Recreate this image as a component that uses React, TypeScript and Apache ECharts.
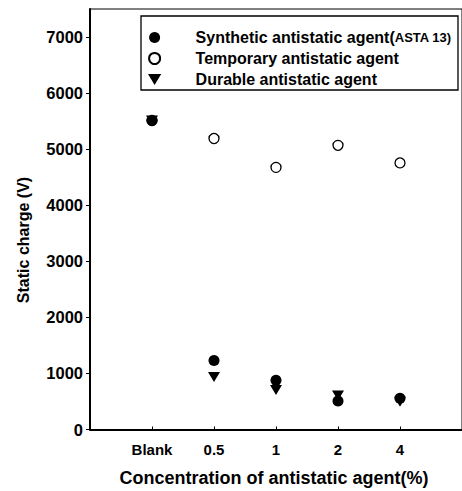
import React, { useEffect, useRef } from "react";
import * as echarts from "echarts";

const categories = ["Blank", "0.5", "1", "2", "4"];
const xIndex = [1, 2, 3, 4, 5];
const syntheticValues = [5510, 1230, 880, 510, 556];
const temporaryValues = [5510, 5190, 4675, 5068, 4755];
const durableValues = [5510, 935, 705, 605, 496];
const yTickValues = [0, 1000, 2000, 3000, 4000, 5000, 6000, 7000];

const seriesNames = [
  "Synthetic antistatic agent(ASTA 13)",
  "Temporary antistatic agent",
  "Durable antistatic agent",
];

const FONT = 'Arial, "Liberation Sans", Helvetica, sans-serif';

export default function App() {
  const ref = useRef<HTMLDivElement>(null);
  useEffect(() => {
    document.body.style.margin = "0";
    if (!ref.current) return;
    const chart = echarts.init(ref.current, undefined, { renderer: "svg" });
    const pts = (vals: number[]) => xIndex.map((x, i) => [x, vals[i]]);
    chart.setOption({
      animation: false,
      backgroundColor: "#fff",
      textStyle: { fontFamily: FONT },
      grid: {
        left: 90,
        top: 9,
        width: 379,
        height: 420.5,
        show: true,
        borderColor: "#000",
        borderWidth: 1,
        backgroundColor: "transparent",
      },
      xAxis: {
        type: "value",
        min: 0,
        max: 6,
        interval: 1,
        splitLine: { show: false },
        axisLine: { show: true, onZero: false, lineStyle: { color: "#000", width: 2 } },
        axisTick: { show: true, inside: true, length: 3, customValues: xIndex, lineStyle: { color: "#000" } },
        axisLabel: {
          customValues: xIndex,
          margin: 12,
          color: "#000",
          fontSize: 15,
          fontWeight: "bold",
          fontFamily: FONT,
          formatter: (v: number) => categories[v - 1] ?? "",
        },
      },
      yAxis: {
        type: "value",
        min: 0,
        max: 7500,
        interval: 1000,
        splitLine: { show: false },
        axisLine: { show: true, onZero: false, lineStyle: { color: "#000", width: 2 } },
        axisTick: { show: true, inside: false, length: 4, customValues: yTickValues, lineStyle: { color: "#000" } },
        axisLabel: {
          customValues: yTickValues,
          margin: 7,
          color: "#000",
          fontSize: 16.5,
          fontWeight: "bold",
          fontFamily: FONT,
          formatter: (v: number) => (v <= 7000 ? String(v) : ""),
        },
      },
      legend: {
        orient: "vertical",
        left: 148,
        top: 29.5,
        padding: 0,
        itemGap: 5,
        itemWidth: 40,
        itemHeight: 11,
        symbolKeepAspect: true,
        data: [
          { name: seriesNames[0], icon: "circle" },
          { name: seriesNames[1], icon: "circle" },
          { name: seriesNames[2], icon: "path://M0,0L12,0L6,10Z" },
        ],
        formatter: (name: string) =>
          name === seriesNames[0]
            ? "{s|}{a|Synthetic antistatic agent(}{b|ASTA 13)}"
            : "{s|}{a|" + name + "}",
        textStyle: {
          color: "#000",
          fontFamily: FONT,
          rich: {
            s: { width: 16, lineHeight: 15 },
            a: { fontSize: 16, fontWeight: "bold", color: "#000", lineHeight: 15, fontFamily: FONT },
            b: { fontSize: 13, fontWeight: "bold", color: "#000", lineHeight: 15, fontFamily: FONT },
          },
        },
        z: 10,
      },
      graphic: [
        {
          type: "rect",
          shape: { x: 141, y: 16, width: 317, height: 74 },
          style: { fill: "#fff", stroke: "#000", lineWidth: 1.3 },
          z: 5,
        },
        {
          type: "text",
          x: 274,
          y: 478,
          style: {
            text: "Concentration of antistatic agent(%)",
            align: "center",
            verticalAlign: "middle",
            fontSize: 18,
            fontWeight: "bold",
            fontFamily: FONT,
            fill: "#000",
          },
        },
        {
          type: "text",
          x: 23,
          y: 240,
          rotation: Math.PI / 2,
          style: {
            text: "Static charge (V)",
            align: "center",
            verticalAlign: "middle",
            fontSize: 16,
            fontWeight: "bold",
            fontFamily: FONT,
            fill: "#000",
          },
        },
      ],
      series: [
        {
          name: seriesNames[2],
          type: "scatter",
          data: pts(durableValues),
          symbol: "triangle",
          symbolRotate: 180,
          symbolSize: [12, 10],
          itemStyle: { color: "#000", opacity: 1 },
          z: 2,
        },
        {
          name: seriesNames[1],
          type: "scatter",
          data: pts(temporaryValues),
          symbol: "circle",
          symbolSize: 10,
          itemStyle: { color: "#fff", borderColor: "#000", borderWidth: 1.3, opacity: 1 },
          z: 3,
        },
        {
          name: seriesNames[0],
          type: "scatter",
          data: pts(syntheticValues),
          symbol: "circle",
          symbolSize: 11,
          itemStyle: { color: "#000", opacity: 1 },
          z: 4,
        },
      ],
    });
    return () => chart.dispose();
  }, []);
  return <div ref={ref} style={{ width: 462, height: 491 }} />;
}
